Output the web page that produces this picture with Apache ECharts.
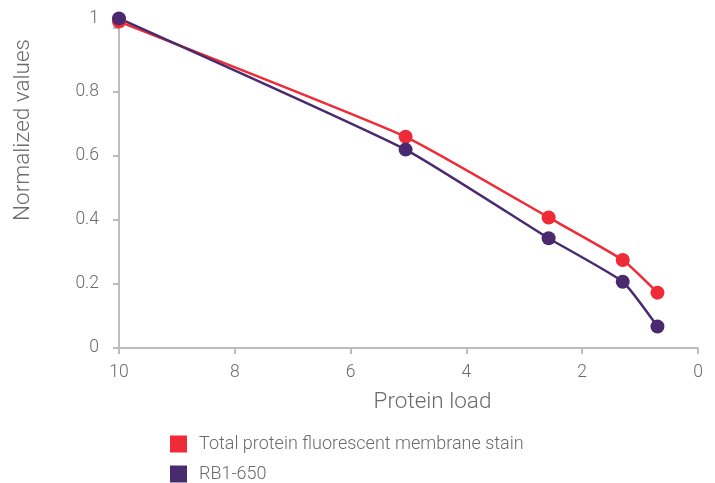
<!DOCTYPE html>
<html>
<head>
<meta charset="utf-8">
<script src="https://cdn.jsdelivr.net/npm/echarts@6/dist/echarts.min.js"></script>
<style>html,body{margin:0;padding:0;background:#fff}#c{width:715px;height:483px}</style>
</head>
<body>
<div id="c"></div>
<script>
var proteinLoad = [10, 5.05, 2.58, 1.3, 0.7];
var totalProtein = [1.02, 0.66, 0.408, 0.275, 0.173];
var rb1650 = [1.03, 0.62, 0.343, 0.207, 0.067];
var seriesNames = ['Total protein fluorescent membrane stain', 'RB1-650'];
var xTicks = [0, 2, 4, 6, 8, 10];
var yTicks = [0, 0.2, 0.4, 0.6, 0.8, 1];

function pairs(xs, ys) { return xs.map(function (x, i) { return [x, ys[i]]; }); }

var font = 'Roboto';
var txt = '#6b6b6b';
function legendAt(top, name) {
  return {
    orient: 'vertical', left: 170, top: top, padding: 0, itemWidth: 17, itemHeight: 17,
    icon: 'rect', selectedMode: false,
    textStyle: { color: txt, fontSize: 18, fontFamily: font, fontWeight: 300, padding: [0, 0, 0, 7] },
    data: [name]
  };
}
var chart = echarts.init(document.getElementById('c'));
chart.setOption({
  animation: false,
  grid: { left: 119, right: 17, top: 28, bottom: 135 },
  legend: [legendAt(435, seriesNames[0]), legendAt(465, seriesNames[1])],
  xAxis: {
    type: 'value', inverse: true, min: xTicks[0], max: xTicks[xTicks.length - 1], interval: 2,
    name: 'Protein load', nameLocation: 'middle', nameGap: 43,
    nameTextStyle: { color: txt, fontSize: 22.5, fontFamily: font, fontWeight: 300, padding: [0, 0, 0, 48] },
    axisLine: { onZero: false, lineStyle: { color: '#bdbdbd', width: 2 } },
    axisTick: { show: true, length: 6, lineStyle: { color: '#bdbdbd', width: 2 } },
    axisLabel: { color: txt, fontSize: 17.5, fontFamily: font, fontWeight: 300, margin: 16 },
    splitLine: { show: false }
  },
  yAxis: {
    type: 'value', min: yTicks[0], max: yTicks[yTicks.length - 1], interval: 0.2,
    name: 'Normalized values', nameLocation: 'middle', nameGap: 84, nameRotate: 90,
    nameTextStyle: { color: txt, fontSize: 22.5, fontFamily: font, fontWeight: 300, padding: [0, 0, 0, 116] },
    axisLine: { show: true, onZero: false, lineStyle: { color: '#bdbdbd', width: 2 } },
    axisTick: { show: true, length: 6, lineStyle: { color: '#bdbdbd', width: 2 } },
    axisLabel: {
      color: txt, fontSize: 17.5, fontFamily: font, fontWeight: 300, margin: 20,
      formatter: function (v) { return v === 1 ? '{t|1}' : String(Math.round(v * 10) / 10); },
      rich: { t: { color: txt, fontSize: 17.5, fontFamily: font, fontWeight: 300, padding: [0, 0, 18, 0] } }
    },
    splitLine: { show: false }
  },
  series: [
    {
      name: seriesNames[0], type: 'line', data: pairs(proteinLoad, totalProtein), clip: false,
      smooth: 0.15, symbol: 'circle', symbolSize: 14,
      itemStyle: { color: '#ee2b36' }, lineStyle: { color: '#ee2b36', width: 2.5 }
    },
    {
      name: seriesNames[1], type: 'line', data: pairs(proteinLoad, rb1650), clip: false,
      smooth: 0.15, symbol: 'circle', symbolSize: 14,
      itemStyle: { color: '#4a2a6e' }, lineStyle: { color: '#4a2a6e', width: 2.5 }
    }
  ]
});
</script>
</body>
</html>
